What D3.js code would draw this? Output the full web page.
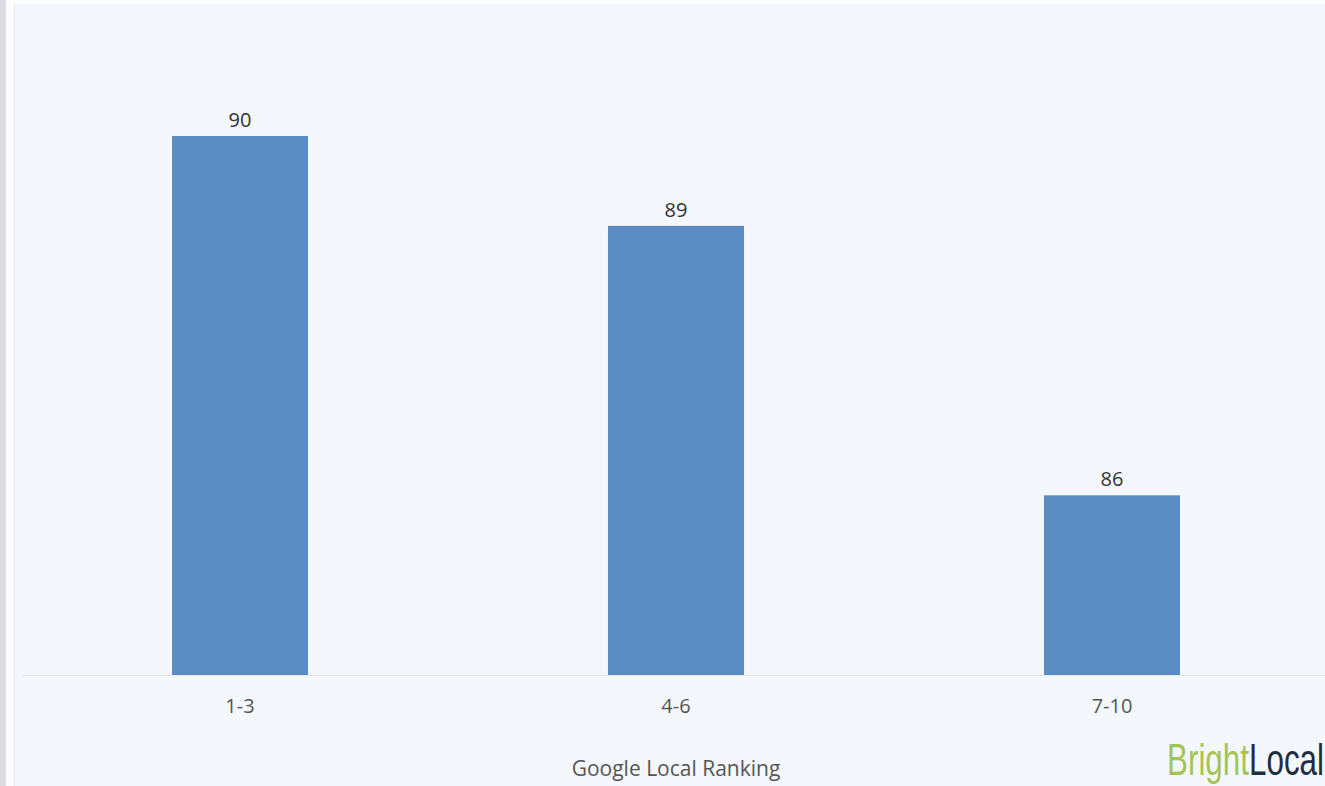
<!DOCTYPE html>
<html>
<head>
<meta charset="utf-8">
<script src="https://cdn.jsdelivr.net/npm/d3@7"></script>
<style>
  html, body { margin: 0; padding: 0; background: #ffffff; overflow: hidden; }
  svg { display: block; }
</style>
</head>
<body>
<svg id="chart" width="1325" height="786"></svg>
<script>
const categories = ["1-3", "4-6", "7-10"];
const values = [90, 89, 86];
const xAxisTitle = "Google Local Ranking";
const logoParts = ["Bright", "Local"];

const W = 1325, H = 786;
const svg = d3.select("#chart");

// page frame
svg.append("rect").attr("x", 0).attr("y", 0).attr("width", 6).attr("height", H).attr("fill", "#dcdde0");
svg.append("rect").attr("x", 14).attr("y", 4).attr("width", W - 14).attr("height", H - 4).attr("fill", "#e6e9ee");
svg.append("rect").attr("x", 15).attr("y", 4).attr("width", W - 15).attr("height", H - 4).attr("fill", "#f4f8fc");

const x = d3.scaleBand()
  .domain(categories)
  .range([22, 1330])
  .paddingInner(0.688)
  .paddingOuter(0.344);

const y = d3.scaleLinear()
  .domain([84, 90])
  .range([675, 136]);

const font = "'Open Sans', 'Noto Sans', sans-serif";

// baseline
svg.append("line")
  .attr("x1", 22).attr("x2", W)
  .attr("y1", y(84) + 0.5).attr("y2", y(84) + 0.5)
  .attr("stroke", "#e4e7ec").attr("stroke-width", 1);

// bars
svg.selectAll("rect.bar")
  .data(values)
  .join("rect")
  .attr("class", "bar")
  .attr("x", (d, i) => x(categories[i]))
  .attr("width", x.bandwidth())
  .attr("y", d => y(d))
  .attr("height", d => y(84) - y(d))
  .attr("fill", "#5a8bc3");

// value labels
svg.selectAll("text.val")
  .data(values)
  .join("text")
  .attr("class", "val")
  .attr("x", (d, i) => x(categories[i]) + x.bandwidth() / 2)
  .attr("y", d => y(d) - 9)
  .attr("text-anchor", "middle")
  .attr("font-family", font)
  .attr("font-size", 20)
  .attr("fill", "#333333")
  .text(d => d);

// x axis
const xAxis = d3.axisBottom(x).tickSize(0).tickPadding(0);
const gx = svg.append("g").attr("transform", `translate(0, ${y(84)})`).call(xAxis);
gx.select(".domain").remove();
gx.selectAll("text")
  .attr("dy", null)
  .attr("y", 38)
  .attr("font-family", font)
  .attr("font-size", 20)
  .attr("fill", "#555555");

// axis title
svg.append("text")
  .attr("x", (22 + 1330) / 2)
  .attr("y", 776)
  .attr("text-anchor", "middle")
  .attr("font-family", font)
  .attr("font-size", 21)
  .attr("fill", "#555555")
  .text(xAxisTitle);

// logo
const logoFont = "'Liberation Sans Narrow', 'Liberation Sans', 'DejaVu Sans Condensed', sans-serif";
const logo = svg.append("text")
  .attr("x", 1167).attr("y", 775)
  .attr("font-family", logoFont)
  .attr("font-size", 45)
  .attr("textLength", 157)
  .attr("lengthAdjust", "spacingAndGlyphs");
logo.append("tspan").attr("fill", "#a6c455").text(logoParts[0]);
logo.append("tspan").attr("fill", "#1f2d40").text(logoParts[1]);
</script>
</body>
</html>
